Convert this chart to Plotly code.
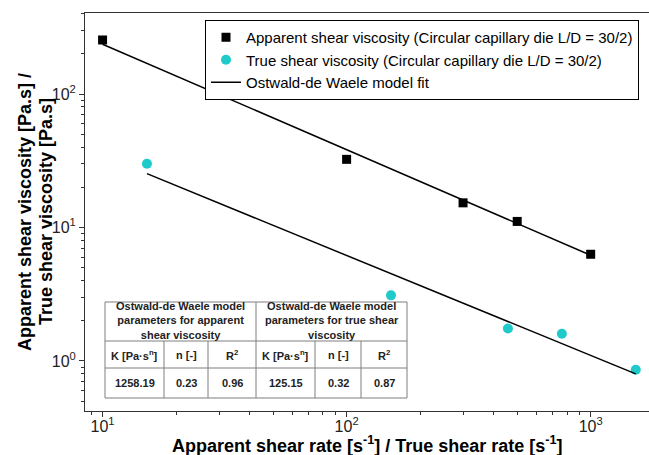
import plotly.graph_objects as go

# ---------------- data ----------------
app_rate = [10, 100, 300, 500, 1000]
app_visc = [254, 32.4, 15.3, 11.1, 6.3]

true_rate = [15.2, 152, 458, 762, 1530]
true_visc = [30.0, 3.1, 1.75, 1.6, 0.86]

fit_app_rate = [10, 1000]
fit_app_visc = [236, 6.2]
fit_true_rate = [15.2, 1530]
fit_true_visc = [25.3, 0.8]

x_tickvals = [10, 100, 1000]
x_ticktext = ["10<sup>1</sup>", "10<sup>2</sup>", "10<sup>3</sup>"]
y_tickvals = [1, 10, 100]
y_ticktext = ["10<sup>0</sup>", "10<sup>1</sup>", "10<sup>2</sup>"]

legend_names = [
    "Apparent shear viscosity (Circular capillary die L/D = 30/2)",
    "True shear viscosity (Circular capillary die L/D = 30/2)",
    "Ostwald-de Waele model fit",
]

x_title = "Apparent shear rate [s<sup>-1</sup>] / True shear rate [s<sup>-1</sup>]"
y_title_lines = ["Apparent shear viscosity [Pa.s] /", "True shear viscosity [Pa.s]"]

table_group_headers = [
    ["Ostwald-de Waele model", "parameters for apparent", "shear viscosity"],
    ["Ostwald-de Waele model", "parameters for true shear", "viscosity"],
]
table_col_headers = ["K [Pa·s<sup>n</sup>]", "n [-]", "R<sup>2</sup>",
                     "K [Pa·s<sup>n</sup>]", "n [-]", "R<sup>2</sup>"]
table_values = ["1258.19", "0.23", "0.96", "125.15", "0.32", "0.87"]

# ---------------- layout geometry (pixels) ----------------
W, H = 649, 455
ML, MR, MT, MB = 85, 0, 13, 44
PW = W - ML - MR
PH = H - MT - MB

def px(x):
    return (x - ML) / PW

def py(y):
    return (H - MB - y) / PH

FONT = "Liberation Sans, Arial, sans-serif"
CYAN = "#1ECACA"

fig = go.Figure()
fig.add_trace(go.Scatter(x=app_rate, y=app_visc, mode="markers", name=legend_names[0],
                         marker=dict(symbol="square", size=9, color="black")))
fig.add_trace(go.Scatter(x=true_rate, y=true_visc, mode="markers", name=legend_names[1],
                         marker=dict(symbol="circle", size=10, color=CYAN)))
fig.add_trace(go.Scatter(x=fit_app_rate, y=fit_app_visc, mode="lines", name=legend_names[2],
                         line=dict(color="black", width=1.5)))
fig.add_trace(go.Scatter(x=fit_true_rate, y=fit_true_visc, mode="lines", name=legend_names[2],
                         showlegend=False, line=dict(color="black", width=1.5)))

# ---------------- table ----------------
col_x = [105, 164, 208, 256, 315, 361, 407]
row_y = [302, 341, 368, 398]
GRID = "#7f7f7f"
shapes = []
shapes.append(dict(type="rect", xref="paper", yref="paper",
                   x0=px(col_x[0]), x1=px(col_x[-1]), y0=py(row_y[-1]), y1=py(row_y[0]),
                   line=dict(color=GRID, width=1), fillcolor="white", layer="above"))
for yy in row_y[1:3]:
    shapes.append(dict(type="line", xref="paper", yref="paper",
                       x0=px(col_x[0]), x1=px(col_x[-1]), y0=py(yy), y1=py(yy),
                       line=dict(color=GRID, width=1), layer="above"))
for i, xx in enumerate(col_x[1:-1], start=1):
    top = row_y[0] if i == 3 else row_y[1]
    shapes.append(dict(type="line", xref="paper", yref="paper",
                       x0=px(xx), x1=px(xx), y0=py(row_y[-1]), y1=py(top),
                       line=dict(color=GRID, width=1), layer="above"))

annotations = []
TCOL = "#222222"
TSIZE = 11
for g, lines in enumerate(table_group_headers):
    cx = (col_x[3 * g] + col_x[3 * g + 3]) / 2
    annotations.append(dict(x=px(cx), y=py(320), xref="paper", yref="paper",
                            text="<br>".join("<b>" + t + "</b>" for t in lines), showarrow=False,
                            xanchor="center", yanchor="middle", align="center",
                            font=dict(family=FONT, size=TSIZE, color=TCOL)))
for j in range(6):
    cx = (col_x[j] + col_x[j + 1]) / 2
    annotations.append(dict(x=px(cx), y=py((row_y[1] + row_y[2]) / 2), xref="paper", yref="paper",
                            text="<b>" + table_col_headers[j] + "</b>", showarrow=False,
                            xanchor="center", yanchor="middle",
                            font=dict(family=FONT, size=TSIZE, color=TCOL)))
    annotations.append(dict(x=px(cx), y=py((row_y[2] + row_y[3]) / 2), xref="paper", yref="paper",
                            text="<b>" + table_values[j] + "</b>", showarrow=False,
                            xanchor="center", yanchor="middle",
                            font=dict(family=FONT, size=TSIZE, color=TCOL)))

# y-axis title (two lines, rotated)
for k, txt in enumerate(y_title_lines):
    annotations.append(dict(x=px([25, 46][k]), y=py(212), xref="paper", yref="paper",
                            text="<b>" + txt + "</b>", showarrow=False, textangle=-90,
                            xanchor="center", yanchor="middle",
                            font=dict(family=FONT, size=18, color="black")))
# x-axis title
annotations.append(dict(x=px(367), y=py(444), xref="paper", yref="paper",
                        text="<b>" + x_title + "</b>", showarrow=False,
                        xanchor="center", yanchor="middle",
                        font=dict(family=FONT, size=18, color="black")))

axis_common = dict(
    type="log", showgrid=False, zeroline=False, showline=True, linecolor="#333333",
    linewidth=1, ticks="outside", ticklen=5, tickcolor="#333333", tickmode="array",
    tickfont=dict(family=FONT, size=16, color="#222222"),
    minor=dict(dtick="D1", ticks="outside", ticklen=3, tickcolor="#333333", showgrid=False),
)

fig.update_layout(
    width=W, height=H,
    margin=dict(l=ML, r=MR, t=MT, b=MB),
    paper_bgcolor="white", plot_bgcolor="white",
    font=dict(family=FONT, color="black"),
    xaxis=dict(axis_common, range=[0.928, 3.239], tickvals=x_tickvals, ticktext=x_ticktext,
               mirror=True, automargin=False, ticklabelstandoff=-4),
    yaxis=dict(axis_common, range=[-0.375, 2.607], tickvals=y_tickvals, ticktext=y_ticktext,
               automargin=False),
    legend=dict(x=px(205), y=py(20), xanchor="left", yanchor="top",
                bordercolor="black", borderwidth=1, bgcolor="white",
                font=dict(family=FONT, size=15, color="black"),
                itemwidth=30, tracegroupgap=0),
    showlegend=True,
    shapes=shapes,
    annotations=annotations,
)

fig.write_html("out.html")
